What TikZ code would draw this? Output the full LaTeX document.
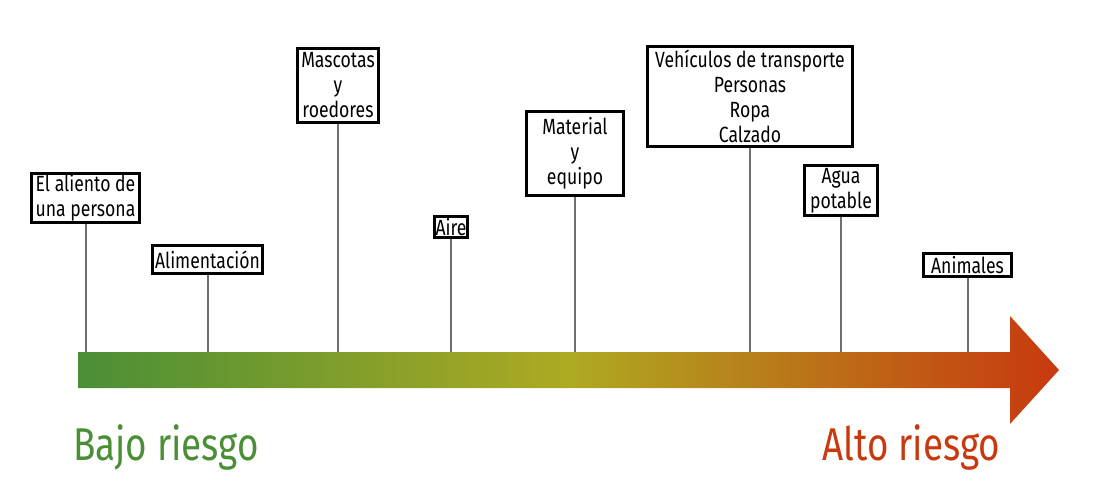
\documentclass[tikz,border=0pt]{standalone}
\usepackage{fontspec}
\setmainfont{Fira Sans}[FakeStretch=0.8]
\definecolor{verde}{HTML}{4A8F36}
\definecolor{oliva}{HTML}{AEAA22}
\definecolor{rojo}{HTML}{C8390F}
\definecolor{palo}{HTML}{6E6E6E}
\begin{document}
\begin{tikzpicture}[x=1pt,y=-1pt,
    cajita/.style={draw, line width=3pt, fill=white, align=center, inner sep=1pt,
      font=\fontsize{22}{25}\selectfont},
    palito/.style={draw=palo, line width=2pt}]
    \useasboundingbox (0,0) rectangle (1114,487);
    % flecha
    \shade[left color=verde, right color=rojo, middle color=oliva]
      (78,352) -- (1010,352) -- (1010,316) -- (1059,370) -- (1010,424)
      -- (1010,388) -- (78,388) -- cycle;
    \coordinate (barra) at (0,352);
    % cajas
    \node[cajita, minimum width=108pt, minimum height=47pt] (aliento) at (85.5,198) {El aliento de\\una persona};
    \node[cajita, minimum width=110pt, minimum height=28pt] (alimento) at (207.5,259.5) {Alimentación};
    \node[cajita, minimum width=81pt, minimum height=74pt] (mascotas) at (338,85.5) {Mascotas\\y\\roedores};
    \node[cajita, minimum width=33pt, minimum height=21pt] (aire) at (451,227) {Aire};
    \node[cajita, minimum width=97pt, minimum height=84pt] (material) at (575,153.5) {Material\\y\\equipo};
    \node[cajita, minimum width=205pt, minimum height=100pt] (vehiculos) at (750,96.5) {Vehículos de transporte\\Personas\\Ropa\\Calzado};
    \node[cajita, minimum width=73pt, minimum height=50pt] (agua) at (841,190.5) {Agua\\potable};
    \node[cajita, minimum width=88pt, minimum height=23pt] (animales) at (967.5,265) {Animales};
    % palitos
    \foreach \n in {aliento,alimento,mascotas,aire,material,vehiculos,agua,animales}
      \draw[palito] (\n.south) -- (\n.south |- barra);
    % extremos
    \node[text=verde, anchor=base west, font=\fontsize{46}{52}\selectfont] (bajo) at (70,460) {Bajo riesgo};
    \node[text=rojo, anchor=base east, font=\fontsize{46}{52}\selectfont] (alto) at (1004,460) {Alto riesgo};
\end{tikzpicture}
\end{document}
